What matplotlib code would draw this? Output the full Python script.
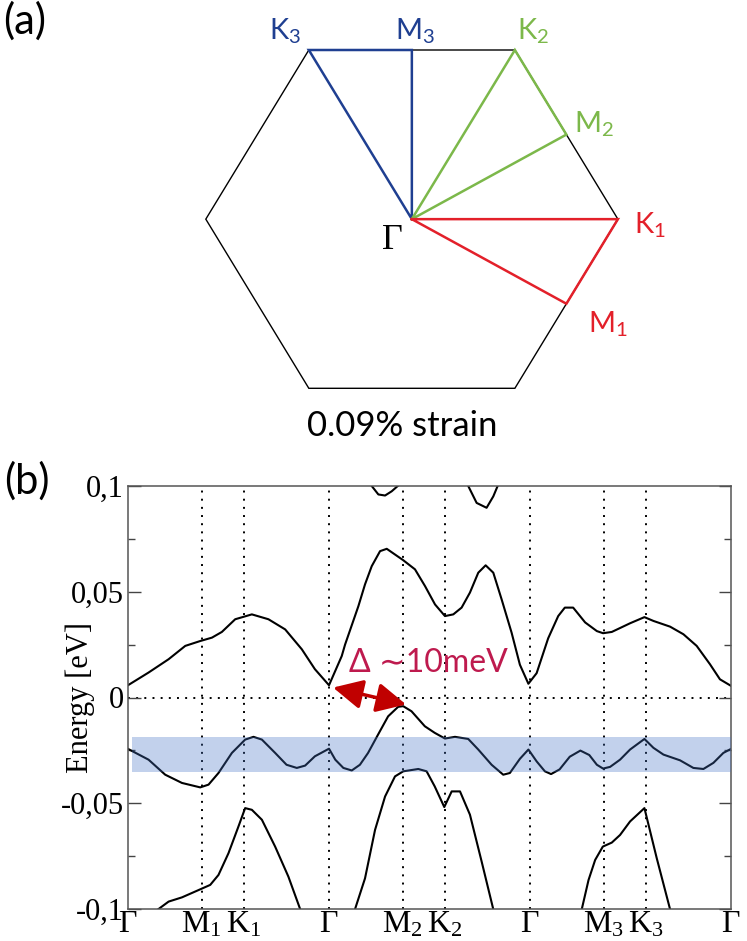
import numpy as np
import matplotlib
matplotlib.use("Agg")
import matplotlib.pyplot as plt

# ---------------- data ----------------
# high-symmetry points along the k-path (path units, |ΓK| = 1)
kpt_pos = [0.0, 0.866, 1.366, 2.366, 3.232, 3.732, 4.732, 5.598, 6.098, 7.098]
kpt_labels = [r'$\mathdefault{\Gamma}$', r'$\mathdefault{M_1}$', r'$\mathdefault{K_1}$',
              r'$\mathdefault{\Gamma}$', r'$\mathdefault{M_2}$', r'$\mathdefault{K_2}$',
              r'$\mathdefault{\Gamma}$', r'$\mathdefault{M_3}$', r'$\mathdefault{K_3}$',
              r'$\mathdefault{\Gamma}$']

# conduction band
cb_k = [0.0, 0.242, 0.478, 0.674, 0.850, 0.988, 1.105, 1.262, 1.458, 1.653, 1.850,
        2.046, 2.200, 2.366, 2.516, 2.555, 2.712, 2.790, 2.869, 2.967, 3.046, 3.143,
        3.237, 3.378, 3.496, 3.614, 3.731, 3.829, 3.927, 4.025, 4.123, 4.210, 4.300,
        4.398, 4.515, 4.613, 4.713, 4.810, 4.946, 5.064, 5.142, 5.240, 5.381, 5.519,
        5.592, 5.695, 5.910, 6.079, 6.185, 6.381, 6.538, 6.694, 6.851, 6.968, 7.098]
cb_E = [0.0058, 0.0118, 0.0181, 0.0244, 0.0267, 0.0283, 0.0310, 0.0370, 0.0393, 0.0370,
        0.0322, 0.0228, 0.0134, 0.0058, 0.0196, 0.0250, 0.0432, 0.0535, 0.0621, 0.0692,
        0.0703, 0.0676, 0.0650, 0.0606, 0.0527, 0.0440, 0.0385, 0.0393, 0.0425, 0.0496,
        0.0590, 0.0625, 0.0590, 0.0464, 0.0307, 0.0155, 0.0065, 0.0115, 0.0280, 0.0385,
        0.0425, 0.0425, 0.0355, 0.0314, 0.0304, 0.0310, 0.0351, 0.0380, 0.0362, 0.0335,
        0.0299, 0.0244, 0.0157, 0.0086, 0.0055]

# upper bands entering from the top
ub1_k = [2.869, 2.947, 3.026, 3.104, 3.175]
ub1_E = [0.1000, 0.0960, 0.0955, 0.0975, 0.1000]
ub2_k = [4.005, 4.104, 4.221, 4.300, 4.351]
ub2_E = [0.1000, 0.0920, 0.0897, 0.0951, 0.1000]

# highest valence band
vb1_k = [0.0, 0.242, 0.438, 0.635, 0.850, 0.948, 1.065, 1.223, 1.379, 1.477, 1.576,
         1.732, 1.866, 1.987, 2.085, 2.200, 2.366, 2.440, 2.535, 2.634, 2.730, 2.826,
         2.944, 3.062, 3.180, 3.239, 3.337, 3.494, 3.610, 3.731, 3.849, 4.005, 4.123,
         4.280, 4.417, 4.495, 4.613, 4.713, 4.810, 4.907, 4.980, 5.080, 5.200, 5.325,
         5.430, 5.519, 5.592, 5.675, 5.792, 5.910, 6.079, 6.185, 6.303, 6.498, 6.655,
         6.773, 6.891, 7.008, 7.098]
vb1_E = [-0.0243, -0.0294, -0.0365, -0.0404, -0.0425, -0.0412, -0.0357, -0.0262, -0.0199,
         -0.0186, -0.0199, -0.0262, -0.0318, -0.0333, -0.0322, -0.0278, -0.0242, -0.0294,
         -0.0333, -0.0345, -0.0318, -0.0262, -0.0175, -0.0089, -0.0044, -0.0041, -0.0065,
         -0.0136, -0.0167, -0.0194, -0.0186, -0.0196, -0.0246, -0.0318, -0.0365, -0.0357,
         -0.0290, -0.0246, -0.0302, -0.0349, -0.0362, -0.0340, -0.0280, -0.0251, -0.0272,
         -0.0318, -0.0336, -0.0328, -0.0294, -0.0246, -0.0196, -0.0238, -0.0270, -0.0297,
         -0.0333, -0.0338, -0.0309, -0.0262, -0.0243]

# second valence band (three visible pieces)
vb2a_k = [0.360, 0.478, 0.635, 0.850, 0.968, 1.065, 1.183, 1.300, 1.379, 1.458, 1.576,
          1.732, 1.888, 2.026]
vb2a_E = [-0.1000, -0.0965, -0.0945, -0.0907, -0.0886, -0.0839, -0.0736, -0.0610, -0.0523,
          -0.0531, -0.0578, -0.0705, -0.0847, -0.1000]
vb2b_k = [2.673, 2.790, 2.908, 3.026, 3.143, 3.240, 3.417, 3.515, 3.610, 3.723, 3.810,
          3.908, 4.025, 4.163, 4.299]
vb2b_E = [-0.1000, -0.0855, -0.0626, -0.0468, -0.0373, -0.0349, -0.0338, -0.0349, -0.0420,
          -0.0518, -0.0444, -0.0444, -0.0554, -0.0776, -0.1000]
vb2c_k = [5.342, 5.421, 5.499, 5.589, 5.695, 5.792, 5.910, 6.079, 6.224, 6.380]
vb2c_E = [-0.1000, -0.0863, -0.0768, -0.0705, -0.0686, -0.0650, -0.0586, -0.0523, -0.0760,
          -0.1000]

# highlighted energy window
band_window = [-0.0352, -0.0188]

# gap arrow (from CB minimum at Γ to VB maximum at M2)
gap_from = (2.414, 0.0047)
gap_to = (3.273, -0.0033)
gap_text = 'Δ ∼10meV'

yticks = [-0.1, -0.05, 0.0, 0.05, 0.1]
ytick_labels = ['-0,1', '-0,05', '0', '0,05', '0,1']
yminor = [-0.075, -0.025, 0.025, 0.075]

# ---------------- figure ----------------
W, H = 747, 941
fig = plt.figure(figsize=(W / 100, H / 100), dpi=100)

SANS = ['Lato', 'DejaVu Sans']
SERIF = ['Liberation Serif', 'DejaVu Serif']

def fpos(px, py):
    return px / W, 1 - py / H

# ---------- panel (a): Brillouin zone ----------
axa = fig.add_axes([205.8 / W, 1 - 388.3 / H, 412.1 / W, 338.3 / H])
h = np.sqrt(3) / 2
axa.set_xlim(-1, 1)
axa.set_ylim(-h, h)
axa.axis('off')

ang = np.deg2rad(np.arange(0, 360, 60))
hx = np.cos(ang)
hy = np.sin(ang)
axa.plot(np.append(hx, hx[0]), np.append(hy, hy[0]), color='black', lw=1.0,
         solid_joinstyle='miter', clip_on=False)
G = (0.0, 0.0)
K1, K2, K3 = (hx[0], hy[0]), (hx[1], hy[1]), (hx[2], hy[2])
M1 = ((hx[0] + hx[5]) / 2, (hy[0] + hy[5]) / 2)
M2 = ((hx[0] + hx[1]) / 2, (hy[0] + hy[1]) / 2)
M3 = ((hx[1] + hx[2]) / 2, (hy[1] + hy[2]) / 2)

c_blue, c_green, c_red = '#1f3f91', '#7cb84a', '#e3202a'
for pts, c in [((G, K3, M3, G), c_blue), ((G, K2, M2, G), c_green), ((G, K1, M1, G), c_red)]:
    axa.plot([p[0] for p in pts], [p[1] for p in pts], color=c, lw=1.8,
             solid_joinstyle='miter', clip_on=False)

def hexlabel(px, py, s, c, fs=21, fam=SANS):
    x = (px - 411.85) / 206.05
    y = (219.15 - py) / 195.3
    axa.text(x, y, s, color=c, fontsize=fs, family=fam, ha='center', va='center',
             clip_on=False)

hexlabel(285, 31, r'$\mathdefault{K_3}$', c_blue)
hexlabel(415, 31, r'$\mathdefault{M_3}$', c_blue)
hexlabel(533, 31, r'$\mathdefault{K_2}$', c_green)
hexlabel(594, 124, r'$\mathdefault{M_2}$', c_green)
hexlabel(650, 225, r'$\mathdefault{K_1}$', c_red)
hexlabel(608, 324, r'$\mathdefault{M_1}$', c_red)
hexlabel(392, 240, 'Γ', 'black', fs=26, fam=SERIF)

fig.text(*fpos(402, 426), '0.09% strain', fontsize=25, family=SANS, ha='center', va='center')
fig.text(*fpos(25, 21), '(a)', fontsize=30, family=SANS, ha='center', va='center')
fig.text(*fpos(27, 481), '(b)', fontsize=30, family=SANS, ha='center', va='center')

# ---------- panel (b): band structure ----------
ax = fig.add_axes([128 / W, 1 - 909 / H, 603 / W, 423 / H])
ax.set_xlim(kpt_pos[0], kpt_pos[-1])
ax.set_ylim(-0.1, 0.1)

line_kw = dict(color='black', lw=1.5, zorder=2)
ax.plot(cb_k, cb_E, **line_kw)
ax.plot(ub1_k, ub1_E, **line_kw)
ax.plot(ub2_k, ub2_E, **line_kw)
ax.plot(vb1_k, vb1_E, **line_kw)
ax.plot(vb2a_k, vb2a_E, **line_kw)
ax.plot(vb2b_k, vb2b_E, **line_kw)
ax.plot(vb2c_k, vb2c_E, **line_kw)

for kp in kpt_pos[1:-1]:
    ax.axvline(kp, color='black', lw=1.4, ls=(0, (1, 3.2)), zorder=1)
ax.axhline(0, color='black', lw=1.4, ls=(0, (1, 3.2)), zorder=1)

ax.axhspan(band_window[0], band_window[1], xmin=0.006, xmax=1.0,
           color='#4472c4', alpha=0.32, lw=0, zorder=3)

ax.annotate('', xy=gap_to, xytext=gap_from,
            arrowprops=dict(arrowstyle='<|-|>,head_length=1.0,head_width=0.5',
                            color='#c00000', lw=2.5, mutation_scale=18,
                            shrinkA=0, shrinkB=0), zorder=5)
ax.text(3.531, 0.0161, gap_text, color='#be1a4e', fontsize=23, family=SANS,
        ha='center', va='center', zorder=5)

ax.set_xticks(kpt_pos)
ax.set_xticklabels(kpt_labels, family=SERIF, fontsize=23)
ax.set_yticks(yticks)
ax.set_yticklabels(ytick_labels, family=SERIF, fontsize=22)
ax.set_yticks(yminor, minor=True)
ax.tick_params(axis='x', which='both', length=0, pad=1)
ax.tick_params(axis='y', which='major', direction='in', length=9, width=1.0,
               left=True, right=True, pad=3, color='#444444')
ax.tick_params(axis='y', which='minor', direction='in', length=5, width=1.0,
               left=True, right=True, color='#444444')
for sp in ax.spines.values():
    sp.set_color('#555555')
    sp.set_linewidth(1.1)

ax.set_ylabel('Energy [eV]', family=SERIF, fontsize=22)
ax.yaxis.label.set_va('center')
ax.yaxis.set_label_coords((80 - 128) / 603, 0.5)

fig.savefig('out.png', dpi=100)
